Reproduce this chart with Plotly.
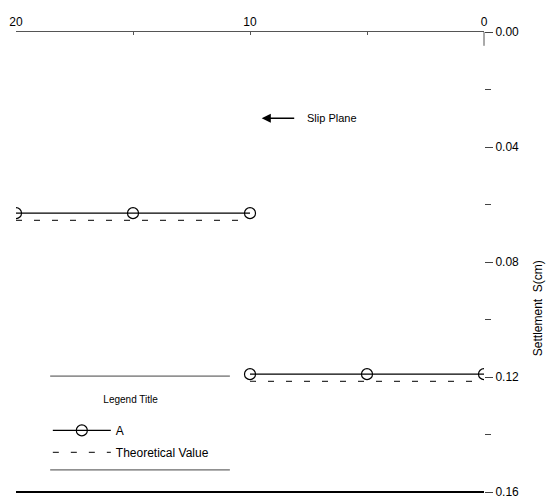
import plotly.graph_objects as go

# Data
a_x1 = [20, 15, 10]
a_y1 = [0.063, 0.063, 0.063]
a_x2 = [10, 5, 0]
a_y2 = [0.119, 0.119, 0.119]
theo_x1 = [20, 10]
theo_y1 = [0.0655, 0.0655]
theo_x2 = [10, 0]
theo_y2 = [0.1215, 0.1215]
y_ticks = [0.00, 0.04, 0.08, 0.12, 0.16]
x_ticks = [0, 10, 20]

FONT = "Liberation Sans, Arial, sans-serif"

fig = go.Figure()
fig.add_trace(go.Scatter(x=a_x1, y=a_y1, mode="lines+markers", name="A",
                         line=dict(color="black", width=1.3),
                         marker=dict(symbol="circle-open", size=11, color="black", line=dict(width=1.2)),
                         legendgroup="a"))
fig.add_trace(go.Scatter(x=a_x2, y=a_y2, mode="lines+markers", showlegend=False,
                         line=dict(color="black", width=1.3),
                         marker=dict(symbol="circle-open", size=11, color="black", line=dict(width=1.2)),
                         legendgroup="a"))
fig.add_trace(go.Scatter(x=theo_x1, y=theo_y1, mode="lines", name="Theoretical Value",
                         line=dict(color="#333", width=1.2, dash="6px,12px"), legendgroup="t"))
fig.add_trace(go.Scatter(x=theo_x2, y=theo_y2, mode="lines", showlegend=False,
                         line=dict(color="#333", width=1.2, dash="6px,12px"), legendgroup="t"))

fig.update_layout(
    width=551, height=502,
    margin=dict(l=16, r=67, t=32, b=10),
    paper_bgcolor="white", plot_bgcolor="white",
    font=dict(family=FONT, size=12, color="black"),
    xaxis=dict(side="top", range=[20, 0], tickvals=x_ticks, showgrid=False, zeroline=False,
               showline=True, linecolor="#555", linewidth=1, automargin=False,
               ticks="inside", ticklen=3, tickcolor="#555",
               minor=dict(tickvals=[5, 15], ticks="inside", ticklen=3, tickcolor="#555"),
               tickfont=dict(size=12)),
    yaxis=dict(side="right", range=[0.16, 0], tickvals=y_ticks, tickformat=".2f",
               showgrid=False, zeroline=False, showline=False, automargin=False,
               ticks="outside", ticklen=8, tickcolor="#444",
               minor=dict(tickvals=[0.02, 0.06, 0.10, 0.14], ticks="outside", ticklen=6, tickcolor="#444"),
               tickfont=dict(size=12)),
    showlegend=True,
    legend=dict(x=0.068, y=0.222, xanchor="left", yanchor="top",
                bgcolor="rgba(0,0,0,0)", borderwidth=0,
                title=dict(text="Legend Title<br> ", side="top center", font=dict(size=10)),
                font=dict(size=12), traceorder="grouped", itemwidth=58,
                tracegroupgap=3),
)

# legend top/bottom lines, bottom axis line, right axis stub
fig.add_shape(type="line", xref="paper", yref="paper", x0=0.073, x1=0.457, y0=0.252, y1=0.252,
              line=dict(color="#444", width=1))
fig.add_shape(type="line", xref="paper", yref="paper", x0=0.073, x1=0.457, y0=0.048, y1=0.048,
              line=dict(color="#444", width=1))
fig.add_shape(type="line", xref="paper", yref="paper", x0=0, x1=1, y0=0, y1=0,
              line=dict(color="black", width=2))
fig.add_shape(type="line", xref="paper", yref="paper", x0=1, x1=1, y0=1, y1=0.97,
              line=dict(color="#555", width=1))

# Slip plane arrow and label
fig.add_annotation(x=9.5, y=0.030, ax=34, ay=0, xref="x", yref="y", text="",
                   showarrow=True, arrowhead=2, arrowsize=1.4, arrowwidth=1.3, arrowcolor="black")
fig.add_annotation(x=7.65, y=0.030, xref="x", yref="y", text="Slip Plane", showarrow=False,
                   xanchor="left", font=dict(size=11))

# Y axis title
fig.add_annotation(x=1.135, y=0.4, xref="paper", yref="paper", text="Settlement  S(cm)",
                   textangle=-90, showarrow=False, font=dict(size=12))

fig.write_html("out.html")
